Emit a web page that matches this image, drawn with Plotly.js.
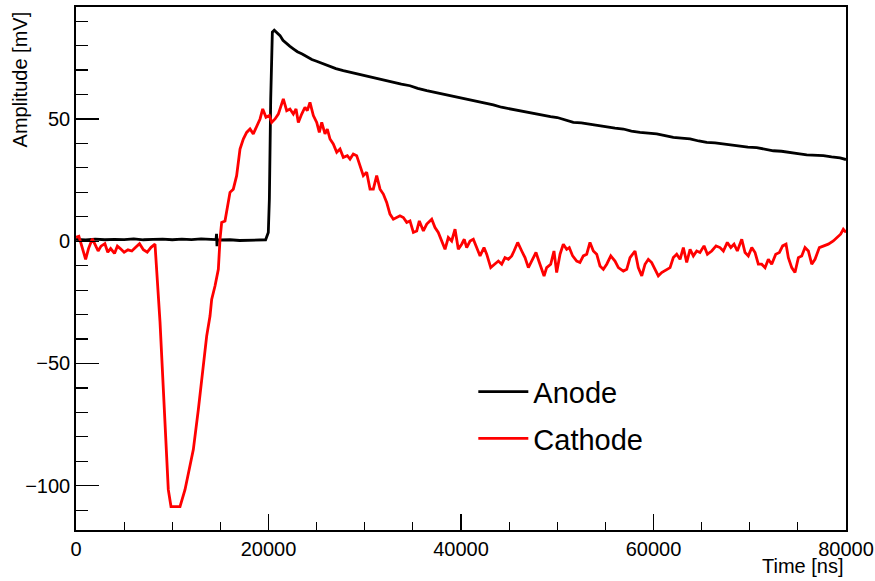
<!DOCTYPE html>
<html>
<head>
<meta charset="utf-8">
<script src="https://cdn.plot.ly/plotly-3.0.1.min.js"></script>
<style>html,body{margin:0;padding:0;background:#fff;}#chart{width:875px;height:581px;}</style>
</head>
<body>
<div id="chart"></div>
<script>
// ---- data ----
const seriesNames = ["Anode", "Cathode"];

const anodeTime = [0,1000,2000,3000,4000,5000,6000,7000,8000,9000,10000,11000,12000,13000,14000,14550,14600,14650,14700,15000,16000,17000,18000,19000,19700,19980,20090,20230,20400,20600,20900,21200,21500,21890,22200,22580,23000,23500,24000,24500,25000,25500,26000,26500,27000,27770,28500,29500,30300,31240,32000,32970,33800,34700,35500,36440,37300,38160,39000,39900,40800,41630,42500,43360,44200,45090,46000,46830,47700,48550,49300,50000,51000,51670,52500,53400,54300,55200,56000,56870,57700,58600,59500,60330,61200,62060,62900,63800,64700,65530,66400,67250,68100,68990,69800,70720,71600,72450,73300,74190,75000,75920,76800,77650,78500,79380,80000];
const anodeAmp = [0.8,0.5,0.9,0.6,0.8,0.7,1.0,0.6,0.8,0.9,0.6,0.9,0.7,1.0,0.8,0.7,3.0,-2.0,0.6,0.5,0.6,0.3,0.5,0.4,0.6,3.6,17.2,58.2,85.5,86.3,85.3,84.1,82.2,80.7,79.8,78.7,77.5,76.6,75.4,74.3,73.6,72.8,71.9,71.2,70.6,69.8,69.1,68.2,67.4,66.5,65.8,65.0,64.3,63.6,62.5,61.6,60.9,60.2,59.6,58.9,58.1,57.5,56.7,55.8,54.8,54.1,53.6,53.0,52.2,51.6,51.0,50.6,49.3,48.6,48.4,47.8,47.3,46.6,46.3,45.9,45.0,44.5,44.2,43.9,43.2,42.5,42.2,41.9,41.0,40.4,40.2,39.8,39.2,38.8,38.5,38.3,37.6,37.0,36.8,36.4,35.8,35.3,35.2,35.0,34.5,34.1,33.4];

const cathodeTime = [0,300,600,1000,1300,1700,2000,2300,2600,3000,3300,3600,4000,4300,4600,5000,5400,5800,6200,6600,7000,7400,7800,8208,8728,9247,9590,9870,10806,11325,11845,12190,12710,13056,13576,13923,14096,14442,14789,14962,15135,15480,15826,16000,16343,16690,17040,17383,17730,18080,18420,18770,19120,19400,19740,20090,20330,20680,21020,21540,21890,22230,22580,22860,23100,23450,23790,24030,24310,24660,25010,25280,25530,25870,26110,26390,26730,27090,27430,27770,28190,28470,28810,29160,29510,29850,30200,30550,30890,31240,31590,31930,32280,32620,32970,33320,33660,34010,34360,34700,35050,35400,35670,36090,36440,36960,37300,37640,38000,38340,38680,39030,39380,39720,40070,40340,40590,40940,41280,41630,41980,42390,42670,43090,43530,43880,44230,44570,44920,45270,45510,45890,46310,46650,47000,47350,47790,48140,48630,48900,49320,49660,49940,50290,50630,50980,51250,51600,52020,52360,52710,53060,53400,53750,54100,54440,54790,55140,55560,56000,56350,56870,57220,57560,58080,58420,58780,59120,59460,59810,60160,60500,60850,61370,61720,62060,62410,62760,63100,63450,63800,64140,64490,64830,65250,65600,66050,66500,66910,67260,67670,68030,68370,68710,69170,69510,69850,70210,70550,70890,71240,71590,71930,72280,72700,73080,73420,73770,74010,74360,74700,75050,75400,75740,76090,76440,76780,77230,77650,78160,78680,79030,79440,79720,80000];
const cathodeAmp = [1.6,2.0,-2,-7.4,-3,1.0,-1.5,-4,-2,-1,-4.5,-3,-5,-2,-3,-4.5,-3.5,-4,-2.5,-1,-3.5,-4.5,-2.5,-1.2,-33,-74,-101.6,-108.5,-108.5,-101.6,-92.1,-85.2,-68.9,-56.6,-38.8,-30.6,-23.8,-18.3,-11.5,0.8,7.7,8.3,17.2,20,21.3,26.8,37.7,41.8,44.5,45.9,43.9,47.3,50,54.1,50.7,51.4,48.6,50,52,58.2,53.4,54.1,52,54.1,48.6,52,54.8,53.4,56.8,51.4,48.6,44.5,48.6,43.9,45.9,41.8,39.8,36.4,37.7,34.3,35,33.6,35.7,35,30.9,26.8,28.2,21.3,21.3,26.8,21.3,19.3,15.9,11.1,9,9.7,10.4,9.7,7.7,8.3,3.6,4.2,8.3,4.2,7,9,5.6,3.6,0.1,-3.3,1.5,0.1,4.9,-3.3,-1.2,0.8,-2.6,0.1,0.8,-2.6,-6,-2.6,-5.3,-10.8,-9.4,-8.1,-9.4,-6.7,-7.4,-6,-4,-0.5,-4,-6.7,-10.8,-8.1,-4.6,-8.7,-14.2,-10.8,-9.4,-4,-12.8,-5.3,-1.2,-3.3,-2.6,-6,-8.1,-8.7,-6,-5.3,-0.5,-4,-5.3,-10.1,-11.5,-9.4,-6,-8.1,-10.8,-12.2,-11.5,-6.7,-4,-10.8,-14.2,-9.4,-7.4,-8.7,-11.5,-14.2,-12.8,-11.5,-10.8,-6.7,-5.3,-7.4,-2.6,-8.7,-3.3,-6,-4,-4.6,-1.9,-5.3,-4,-1.9,-2.6,-4,-0.5,-2.6,-1.2,-4,0.8,-4.6,-6,-2.6,-4.6,-9.4,-9.4,-10.8,-7.4,-9.4,-5.3,-4.6,-1.9,-1.2,-6.7,-10.8,-12.8,-6.7,-6,-2.6,-4,-9.4,-7.4,-2.6,-1.9,-1.2,0.1,1.5,2.9,4.9,3.6];

const xTitle = "Time [ns]";
const yTitle = "Amplitude [mV]";

// ---- chart ----
const FONT = "Liberation Sans, Arial, Helvetica, sans-serif";

const traces = [
  {x: anodeTime, y: anodeAmp, name: seriesNames[0], type: "scatter", mode: "lines",
   line: {color: "#000000", width: 2.8}, legendgroup: "a"},
  {x: cathodeTime, y: cathodeAmp, name: seriesNames[1], type: "scatter", mode: "lines",
   line: {color: "#ff0000", width: 2.8}, legendgroup: "c"}
];

const axisCommon = {
  showgrid: false, zeroline: false, showline: true, linecolor: "#000", linewidth: 1.8,
  mirror: true, ticks: "inside", tickcolor: "#000", tickwidth: 1.2,
  tickfont: {family: FONT, size: 20, color: "#000"}
};

const layout = {
  width: 875, height: 581,
  margin: {l: 76, r: 29, t: 7, b: 51, pad: 0},
  paper_bgcolor: "#fff", plot_bgcolor: "#fff",
  font: {family: FONT, color: "#000"},
  showlegend: true,
  legend: {x: 0.516, y: 0.313, xanchor: "left", yanchor: "top",
           bgcolor: "rgba(0,0,0,0)", borderwidth: 0,
           font: {family: FONT, size: 29, color: "#000"},
           traceorder: "grouped", tracegroupgap: 6, itemwidth: 50},
  xaxis: Object.assign({}, axisCommon, {
    range: [0, 80000], tickmode: "linear", tick0: 0, dtick: 20000, ticklen: 16,
    tickformat: "d", minor: {dtick: 5000, ticklen: 8, ticks: "inside", tickcolor: "#000", tickwidth: 1.2, showgrid: false}
  }),
  yaxis: Object.assign({}, axisCommon, {
    range: [-118.1, 95.8], tickmode: "linear", tick0: 0, dtick: 50, ticklen: 23,
    minor: {dtick: 10, ticklen: 12, ticks: "inside", tickcolor: "#000", tickwidth: 1.2, showgrid: false}
  }),
  annotations: [
    {text: xTitle, xref: "paper", yref: "paper", x: 1, y: -0.069, xanchor: "right", yanchor: "middle",
     showarrow: false, font: {family: FONT, size: 20, color: "#000"}},
    {text: yTitle, xref: "paper", yref: "paper", x: -0.073, y: 0.995, xanchor: "center", yanchor: "top",
     textangle: -90, showarrow: false, font: {family: FONT, size: 20, color: "#000"}}
  ]
};

Plotly.newPlot("chart", traces, layout, {displayModeBar: false, staticPlot: true});
</script>
</body>
</html>
